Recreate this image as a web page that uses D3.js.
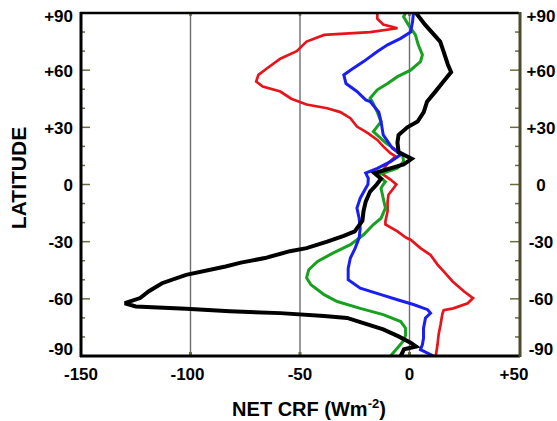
<!DOCTYPE html>
<html><head><meta charset="utf-8">
<script src="https://cdn.jsdelivr.net/npm/d3@7"></script>
<style>
html,body{margin:0;padding:0;background:#fff;}
svg{display:block;font-family:"Liberation Sans",Arial,sans-serif;font-weight:bold;}
</style></head>
<body>
<svg id="chart" width="557" height="421"></svg>
<script>
// ---- data (latitude in degrees, net CRF in W m^-2) ----
const xTicks = [-150, -100, -50, 0, 50];
const xTickLabels = ["-150", "-100", "-50", "0", "+50"];
const yTicks = [90, 60, 30, 0, -30, -60, -90];
const yTickLabels = ["+90", "+60", "+30", "0", "-30", "-60", "-90"];
const gridValues = [-100, -50, 0];

const redLat = [90,87,84,82,80,78.5,75,70,66,61,57.5,54,51.4,48.8,45,42,40,38,34.8,30.4,27,23.4,20,16.4,14.7,11,6,2.6,0,-2,-5.4,-9,-14,-19.4,-21,-24.6,-28,-29,-33.4,-37,-42,-45.6,-50.9,-56,-59.6,-62.3,-65,-66,-68,-73.5,-78.7,-84,-90];
const redVal = [-14.7,-14.7,-12,-5.5,-18,-39,-47,-51.5,-59,-65,-69,-70,-67,-59,-54,-47,-37.6,-31.6,-27,-24,-19,-14.7,-12,-8.7,-6.4,-10,-13,-8.7,-6,-7.3,-9.6,-10,-10,-11,-11,-5.5,-1.5,0.5,5,9.6,12.8,15.6,19.7,24.8,29,26.6,20,15.6,15,14.2,13.3,12.8,12];

const greenLat = [90,88,83.8,78.5,73.3,68,64.5,60,56.6,53,49.7,45.3,43.5,38,33,27.8,22,15.7,12,8.5,5,1.5,0,-2,-7.2,-12.4,-17.7,-21,-26.4,-31.6,-36,-40.4,-44.7,-49,-52.6,-57.8,-61.4,-65,-68.3,-71.9,-75.4,-79,-82,-85.8,-90];
const greenVal = [-1.8,-2.7,-0.5,2.7,4,5.9,5,0.5,-5.5,-10,-14.7,-18,-17,-14.7,-13,-16.5,-11,-3.2,-2.7,-5.5,-14.7,-11,-12,-13,-12,-11,-13,-16.5,-21,-27,-35,-42,-46,-47,-45,-39,-33,-22.5,-12,-4,-1.8,-1.8,-2.7,-5.5,-8.7];

const blueLat = [90,85.5,80,76.7,73.3,69.8,64.5,60,57.5,53,48.8,44.4,43.5,38,33,26,19,15.7,12,8.5,6,3.3,0,-2,-7.2,-12.4,-17.7,-23,-28,-33.4,-38.6,-44,-50,-54.4,-57.8,-60.5,-63,-65.7,-67.5,-70,-75.4,-80.6,-84,-86.7,-90];
const blueVal = [1.8,1.4,0.5,-4,-10,-14.7,-21,-27,-30,-29,-24,-20,-18,-14,-13,-12,-7.8,-4,-8.7,-14.7,-20,-18.8,-19,-20,-22.5,-24,-23,-22.5,-23,-24.8,-27,-28,-28,-22.5,-13,-5.5,1.8,8.3,9.6,7.3,6.4,6.4,5.9,5,11];

const blackLat = [90,84,75,70,63,59,54,49,43.5,38,33,30,26,22,17,13.5,10.5,6,3,0,-3.7,-9,-14,-19,-24.6,-27,-30,-33.4,-35,-38.6,-41,-43,-47.4,-51.8,-56,-59.6,-62.3,-64,-65.2,-66.5,-67.5,-69,-70,-72.7,-76,-79.7,-83,-85,-86.5,-90];
const blackVal = [3,7,14,15.5,17.5,19,15.5,12,8,6.5,3.7,-1,-5,-5.5,-5,1,-2.7,-16,-13,-15,-18,-20,-21,-21.5,-25,-30,-37.6,-47,-54.6,-66,-77,-84,-102,-113,-119,-123,-130,-125,-102,-82,-59,-39,-28.5,-21,-12,-5,0.5,3,-2.5,-4];

const series = [
  {name:"red",   lat:redLat,   val:redVal,   color:"#e8141c", width:2.7},
  {name:"green", lat:greenLat, val:greenVal, color:"#18a020", width:3},
  {name:"blue",  lat:blueLat,  val:blueVal,  color:"#1a1ef0", width:3},
  {name:"black", lat:blackLat, val:blackVal, color:"#000000", width:4}
];

// ---- layout ----
const svg = d3.select("#chart");
const L = 81, R = 519, T = 13, B = 356;
const x = d3.scaleLinear().domain([-150, 50]).range([L, R]);
const y = d3.scaleLinear().domain([-90, 90]).range([B, T]);
const olive = "#6b6b40";

// gridlines
svg.append("g").selectAll("line").data(gridValues).join("line")
  .attr("x1", d => x(d)).attr("x2", d => x(d))
  .attr("y1", T).attr("y2", B)
  .attr("stroke", "#6e6e6e").attr("stroke-width", 1.4);

// minor/major latitude ticks (left & right, inside)
const latTicks = d3.range(-90, 91, 10);
const tickG = svg.append("g");
tickG.selectAll("line.l").data(latTicks).join("line").attr("class","l")
  .attr("x1", L).attr("x2", d => L + (d % 30 === 0 ? 9 : 4))
  .attr("y1", d => y(d)).attr("y2", d => y(d))
  .attr("stroke", olive).attr("stroke-width", 1.5);
tickG.selectAll("line.r").data(latTicks).join("line").attr("class","r")
  .attr("x1", R).attr("x2", d => R - (d % 30 === 0 ? 9 : 4))
  .attr("y1", d => y(d)).attr("y2", d => y(d))
  .attr("stroke", olive).attr("stroke-width", 1.5);
// bottom/top small ticks
tickG.selectAll("line.b").data(gridValues).join("line").attr("class","b")
  .attr("x1", d => x(d)).attr("x2", d => x(d))
  .attr("y1", B).attr("y2", B - 4)
  .attr("stroke", olive).attr("stroke-width", 3);
tickG.selectAll("line.t").data(gridValues).join("line").attr("class","t")
  .attr("x1", d => x(d)).attr("x2", d => x(d))
  .attr("y1", T).attr("y2", T + 3)
  .attr("stroke", olive).attr("stroke-width", 2.5);

// series lines
const line = d3.line().x(d => x(d[1])).y(d => y(d[0])).curve(d3.curveLinear);
svg.append("g").selectAll("path").data(series).join("path")
  .attr("d", s => line(s.lat.map((la, i) => [la, s.val[i]])))
  .attr("fill", "none")
  .attr("stroke", s => s.color)
  .attr("stroke-width", s => s.width)
  .attr("stroke-linejoin", "miter")
  .attr("stroke-miterlimit", 3);

// frame
svg.append("line").attr("x1", L - 1).attr("x2", R).attr("y1", T).attr("y2", T)
  .attr("stroke", "#000").attr("stroke-width", 2.5);
svg.append("line").attr("x1", L - 1).attr("x2", R + 1).attr("y1", B).attr("y2", B)
  .attr("stroke", "#000").attr("stroke-width", 3);
svg.append("line").attr("x1", L).attr("x2", L).attr("y1", T - 1).attr("y2", B + 1)
  .attr("stroke", "#000").attr("stroke-width", 3);
svg.append("line").attr("x1", R + 1).attr("x2", R + 1).attr("y1", T - 1).attr("y2", B + 1)
  .attr("stroke", "#4a4a2c").attr("stroke-width", 3);

// tick labels
const labY = (d) => d === 90 ? y(d) + 5 : d === -90 ? y(d) - 5 : y(d) + 2;
svg.append("g").selectAll("text").data(yTicks).join("text")
  .attr("x", 73).attr("y", d => labY(d))
  .attr("text-anchor", "end").attr("dominant-baseline", "middle")
  .attr("font-size", 17)
  .text((d, i) => yTickLabels[i]);
svg.append("g").selectAll("text").data(yTicks).join("text")
  .attr("x", 541).attr("y", d => labY(d))
  .attr("text-anchor", "middle").attr("dominant-baseline", "middle")
  .attr("font-size", 17)
  .text((d, i) => yTickLabels[i]);
svg.append("g").selectAll("text").data(xTicks).join("text")
  .attr("x", d => x(d) - (d === 50 ? 5 : d === -100 ? 3 : 0)).attr("y", 380)
  .attr("text-anchor", "middle")
  .attr("font-size", 17)
  .text((d, i) => xTickLabels[i]);

// axis titles
svg.append("text")
  .attr("transform", "translate(26,178) rotate(-90)")
  .attr("text-anchor", "middle")
  .attr("font-size", 21)
  .text("LATITUDE");
const xt = svg.append("text").attr("x", 309).attr("y", 416)
  .attr("text-anchor", "middle").attr("font-size", 20);
xt.append("tspan").text("NET CRF (Wm");
xt.append("tspan").attr("font-size", 13).attr("dy", -8).text("-2");
xt.append("tspan").attr("dy", 8).text(")");
</script>
</body></html>
